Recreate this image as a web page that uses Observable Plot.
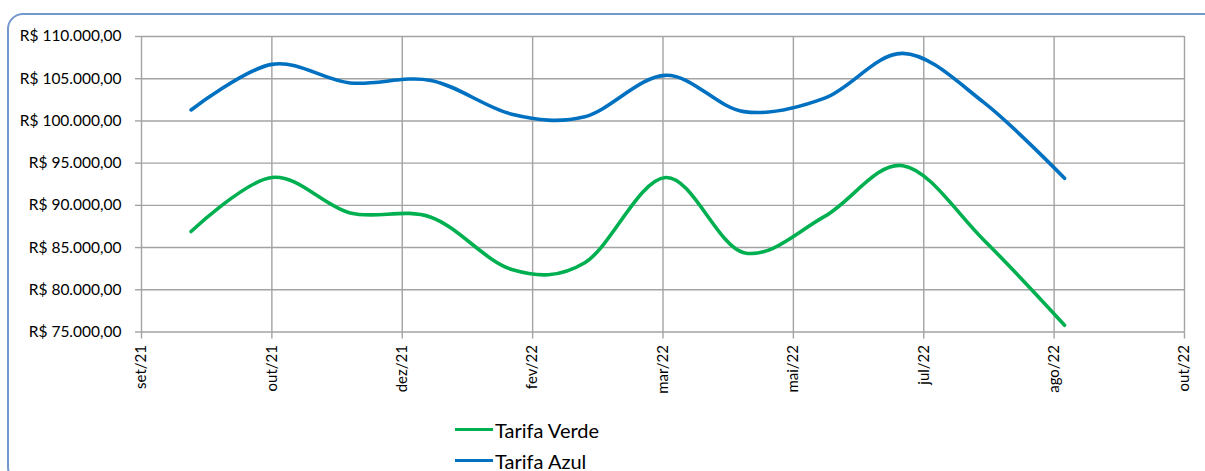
<!DOCTYPE html>
<html>
<head>
<meta charset="utf-8">
<script src="https://cdn.jsdelivr.net/npm/d3@7"></script>
<script src="https://cdn.jsdelivr.net/npm/@observablehq/plot@0.6"></script>
<style>
  html, body { margin: 0; padding: 0; background: #fff; }
  #wrap { position: relative; width: 1205px; height: 471px; overflow: hidden; font-family: Lato, "Open Sans", sans-serif; }
  #frame { position: absolute; left: 7px; top: 13px; width: 1215px; height: 470px; border: 2px solid #7398cb; border-radius: 16px; box-sizing: border-box; }
  #chart { position: absolute; left: 0; top: 0; }
  #legend { position: absolute; left: 455px; top: 414px; font-size: 20px; color: #000; }
  .item { display: flex; align-items: center; height: 31px; }
  .sw { width: 38px; height: 3.5px; margin-right: 2px; }
  #chart g[aria-label="x-axis tick label"] { font-size: 15px; }
  #chart g[aria-label="y-axis tick label"] { font-size: 15.5px; }
</style>
</head>
<body>
<div id="wrap">
  <div id="frame"></div>
  <div id="chart"></div>
  <div id="legend"></div>
</div>
<script>
// ---- data ----
const dates = ["2021-09-30","2021-10-31","2021-11-30","2021-12-31","2022-01-31","2022-02-28",
               "2022-03-31","2022-04-30","2022-05-31","2022-06-30","2022-07-31","2022-08-31"];
const tarifaVerde = [86900, 93300, 89100, 88600, 82400, 83200, 93300, 84400, 88700, 94700, 85900, 75800];
const tarifaAzul  = [101300, 106700, 104500, 104800, 100800, 100500, 105400, 101100, 102700, 108000, 102200, 93200];
const seriesNames = ["Tarifa Verde", "Tarifa Azul"];
const seriesColors = ["#00b050", "#0070c0"];
const tickLabels = ["set/21","out/21","dez/21","fev/22","mar/22","mai/22","jul/22","ago/22","out/22"];
const yTicks = [75000, 80000, 85000, 90000, 95000, 100000, 105000, 110000];
const axisStart = "2021-09-11";
const tickStepDays = 50;

// ---- derived ----
const parse = d3.utcParse("%Y-%m-%d");
const start = parse(axisStart);
const tickDates = tickLabels.map((_, i) => d3.utcDay.offset(start, tickStepDays * i));
const rows = [];
[tarifaVerde, tarifaAzul].forEach((vals, s) => {
  vals.forEach((v, i) => rows.push({series: seriesNames[s], date: parse(dates[i]), value: v}));
});
const brl = d3.formatLocale({decimal: ",", thousands: ".", grouping: [3], currency: ["R$ ", ""]}).format("$,.2f");
const gridColor = "#a3a3a3";

const chart = Plot.plot({
  width: 1205,
  height: 405,
  marginLeft: 141,
  marginRight: 21,
  marginTop: 36,
  marginBottom: 73.5,
  style: {fontFamily: "Lato, 'Open Sans', sans-serif", fontSize: "13px", color: "#000", background: "transparent", overflow: "visible"},
  x: {type: "utc", domain: [tickDates[0], tickDates[tickDates.length - 1]]},
  y: {domain: [75000, 110000]},
  marks: [
    Plot.gridX(tickDates, {stroke: gridColor, strokeOpacity: 1, strokeWidth: 1.4}),
    Plot.gridY(yTicks, {stroke: gridColor, strokeOpacity: 1, strokeWidth: 1.4}),
    Plot.axisX(tickDates, {
      tickFormat: d => tickLabels[tickDates.findIndex(t => +t === +d)],
      tickRotate: -90, tickSize: 7, tickPadding: 6, stroke: gridColor, strokeWidth: 1.4,
      fontSize: 15, label: null
    }),
    Plot.axisY(yTicks, {tickFormat: brl, tickSize: 6, tickPadding: 14, stroke: gridColor, strokeWidth: 1.4, fontSize: 15.5, label: null}),
    ...seriesNames.map((name, s) => Plot.line(rows.filter(r => r.series === name), {
      x: "date", y: "value", stroke: seriesColors[s], strokeWidth: 3.6, curve: "cardinal", tension: 0
    }))
  ]
});
document.getElementById("chart").appendChild(chart);

const legend = document.getElementById("legend");
seriesNames.forEach((name, s) => {
  const it = document.createElement("div");
  it.className = "item";
  it.innerHTML = `<span class="sw" style="background:${seriesColors[s]}"></span><span>${name}</span>`;
  legend.appendChild(it);
});
</script>
</body>
</html>
